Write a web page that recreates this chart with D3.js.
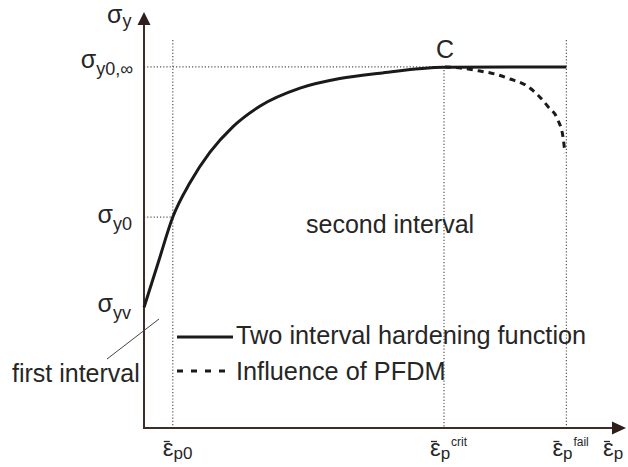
<!DOCTYPE html>
<html><head><meta charset="utf-8">
<script src="https://cdn.jsdelivr.net/npm/d3@7"></script>
<style>
html,body{margin:0;padding:0;background:#fff;}
svg{display:block;font-family:"Liberation Sans",Arial,sans-serif;}
</style></head>
<body>
<svg id="chart" width="628" height="467"></svg>
<script>
// ---- data (abstract units) ----
const hardeningX = [0, 3, 6, 9.6, 13.75, 18.5, 24.2, 32.5, 40.8, 49.2, 62.5, 88];
const hardeningY = [29, 39.9, 50.7, 59.0, 66.3, 72.4, 77.4, 81.7, 84.0, 85.3, 86.7, 86.8];
const pfdmX = [62.7, 66.25, 70, 73.1, 76.25, 79.4, 82.1, 84.2, 86.25, 87.3, 87.7];
const pfdmY = [86.8, 86.5, 85.8, 85.1, 83.9, 82.5, 80.0, 77.2, 74.0, 69.9, 66.1];
const strainMarks = [6, 62.5, 88];            // eps_p0, eps_crit, eps_fail
const strainSup = ["", "crit", "fail"];
const strainSub = ["p0", "p", "p"];
const stressMarks = [86.8, 50.7, 29];         // sigma_y0,inf, sigma_y0, sigma_yv
const stressSub = ["y0,\u221E", "y0", "yv"];
const legendLabels = ["Two interval hardening function", "Influence of PFDM"];
const regionLabels = ["first interval", "second interval"];

const svg = d3.select("#chart");
const x = d3.scaleLinear().domain([0, 100]).range([144, 624]);
const y = d3.scaleLinear().domain([0, 100]).range([428, 12]);
const ink = "#1a1a1a", axisCol = "#3e2c27", dotCol = "#555", txt = "#262626";

// dotted guides
const dot = (x1,y1,x2,y2)=>svg.append("line").attr("x1",x1).attr("y1",y1).attr("x2",x2).attr("y2",y2)
  .attr("stroke",dotCol).attr("stroke-width",1.2).attr("stroke-dasharray","1.2,2");
dot(x(strainMarks[0]), 40, x(strainMarks[0]), y(0));
dot(x(strainMarks[1]), y(stressMarks[0]), x(strainMarks[1]), y(0));
dot(x(strainMarks[2]), 40, x(strainMarks[2]), y(0));
dot(x(0), y(stressMarks[0]), x(strainMarks[2]), y(stressMarks[0]));
dot(x(0), y(stressMarks[1]), x(strainMarks[0]), y(stressMarks[1]));

// axes
svg.append("line").attr("x1",x(0)).attr("y1",y(0)).attr("x2",x(0)).attr("y2",22)
  .attr("stroke",axisCol).attr("stroke-width",2);
svg.append("line").attr("x1",x(0)-1).attr("y1",y(0)).attr("x2",614).attr("y2",y(0))
  .attr("stroke",axisCol).attr("stroke-width",2);
svg.append("path").attr("d",`M${x(0)},12 L${x(0)-6.5},25 L${x(0)+6.5},25 Z`).attr("fill","#2e1f1b");
svg.append("path").attr("d",`M626,${y(0)} L612,${y(0)-6.5} L612,${y(0)+6.5} Z`).attr("fill","#2e1f1b");

// curves
const pts = (xs,ys)=>xs.map((v,i)=>[x(v),y(ys[i])]);
const line = d3.line().curve(d3.curveMonotoneX);
svg.append("path").attr("d",line(pts(pfdmX,pfdmY))).attr("fill","none").attr("stroke",ink)
  .attr("stroke-width",3).attr("stroke-dasharray","6,5");
svg.append("path").attr("d",line(pts(hardeningX,hardeningY))).attr("fill","none").attr("stroke",ink)
  .attr("stroke-width",3);

// text helpers
const T = (xx,yy,s,size)=>svg.append("text").attr("x",xx).attr("y",yy).attr("fill",txt)
  .attr("font-size",size).text(s);

// y labels
const sig = (xEnd, base, sub) => {
  const t = svg.append("text").attr("x",xEnd).attr("y",base).attr("text-anchor","end").attr("fill",txt);
  t.append("tspan").attr("font-size",25).text("\u03C3");
  t.append("tspan").attr("font-size",18).attr("dy",7).text(sub);
};
sig(133, y(stressMarks[0])+1, stressSub[0]);
sig(132, y(stressMarks[1])+6, stressSub[1]);
sig(131, y(stressMarks[2])+5, stressSub[2]);
{
  const t = svg.append("text").attr("x",107).attr("y",23).attr("fill",txt);
  t.append("tspan").attr("font-size",25).text("\u03C3");
  t.append("tspan").attr("font-size",18).attr("dy",4).text("y");
}

// x labels
const eps = (x0, sub, sup) => {
  svg.append("line").attr("x1",x0+1).attr("x2",x0+7).attr("y1",441.5).attr("y2",441.5)
    .attr("stroke",txt).attr("stroke-width",1.3);
  const t = svg.append("text").attr("x",x0).attr("y",456).attr("fill",txt);
  t.append("tspan").attr("font-size",24).text("\u03B5");
  t.append("tspan").attr("font-size",17).attr("dy",3).text(sub);
  if (sup) svg.append("text").attr("x",x0+21).attr("y",446).attr("fill",txt).attr("font-size",12).text(sup);
};
strainMarks.forEach((m,i)=>eps(x(m) - (i===0?10:14), strainSub[i], strainSup[i]));
eps(603, "p", "");

// C marker
T(436, 58, "C", 25);

// region labels
T(306, 233, regionLabels[1], 25);
T(12, 382, regionLabels[0], 25);
svg.append("line").attr("x1",107).attr("y1",359).attr("x2",159).attr("y2",319)
  .attr("stroke","#444").attr("stroke-width",1);

// legend
svg.append("line").attr("x1",177).attr("x2",233).attr("y1",337).attr("y2",337)
  .attr("stroke",ink).attr("stroke-width",3);
svg.append("line").attr("x1",177).attr("x2",233).attr("y1",371).attr("y2",371)
  .attr("stroke",ink).attr("stroke-width",3).attr("stroke-dasharray","6,8");
T(236, 344, legendLabels[0], 25.3);
T(236, 380, legendLabels[1], 25.3);
</script>
</body></html>
